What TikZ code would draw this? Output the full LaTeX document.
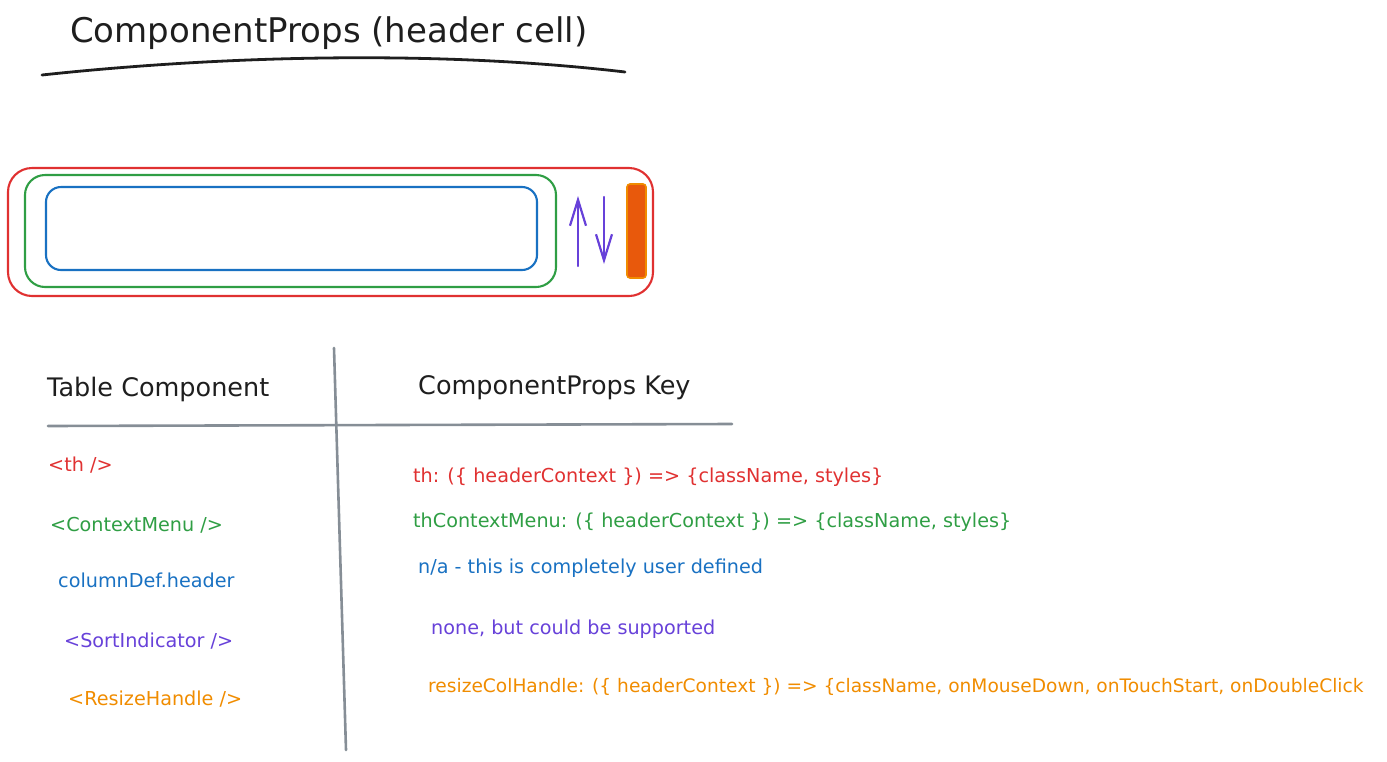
\documentclass[tikz,border=0pt]{standalone}
\usepackage{fontspec}
\setmainfont{DejaVu Sans}
\usetikzlibrary{arrows.meta}
\definecolor{exred}{HTML}{E03131}
\definecolor{exgreen}{HTML}{2F9E44}
\definecolor{exblue}{HTML}{1971C2}
\definecolor{exviolet}{HTML}{6741D9}
\definecolor{exorange}{HTML}{F08C00}
\definecolor{exorangefill}{HTML}{E8590C}
\definecolor{exgray}{HTML}{868E96}
\definecolor{exblack}{HTML}{1E1E1E}
\begin{document}
\begin{tikzpicture}[x=1pt,y=-1pt,
  lbl/.style={anchor=west,inner sep=0pt,font=\fontsize{19.2}{22}\selectfont},
  hdr/.style={anchor=west,inner sep=0pt,font=\fontsize{25.5}{28}\selectfont,text=exblack},
  box/.style={line width=2.1pt},
  rule/.style={draw=exgray,line width=2.6pt,line cap=round},
  sortarrow/.style={draw=exviolet,line width=2.2pt,line cap=round,-{Straight Barb[length=26pt,width=16pt,line width=2.2pt]}}
]
\useasboundingbox (0,0) rectangle (1387,761);

% title
\node[anchor=west,inner sep=0pt,font=\fontsize{34}{38}\selectfont,text=exblack] (title) at (70,33) {ComponentProps (header cell)};
\coordinate (ulA) at (42,75);
\coordinate (ulB) at (625,72);
\draw[exblack,line width=2.8pt,line cap=round] (ulA) .. controls (200,58) and (420,48) .. (ulB);

% header cell sketch
\draw[box,draw=exred,rounded corners=24pt] (8,168) rectangle (653,296);
\draw[box,draw=exgreen,rounded corners=20pt] (25,175) rectangle (556,287);
\draw[box,draw=exblue,rounded corners=15pt] (46,187) rectangle (537,270);
\coordinate (upS) at (578,266);
\coordinate (upE) at (578,196);
\coordinate (dnS) at (604,197);
\coordinate (dnE) at (604,264);
\draw[sortarrow] (upS) -- (upE);
\draw[sortarrow] (dnS) -- (dnE);
\draw[draw=exorange,fill=exorangefill,line width=1.6pt,rounded corners=3pt] (627,184) rectangle (646,278);

% table rules
\coordinate (vA) at (334,348);
\coordinate (vB) at (346,750);
\coordinate (hA) at (48,426);
\coordinate (hB) at (732,424);
\draw[rule] (vA) -- (vB);
\draw[rule] (hA) -- (hB);

% headers
\node[hdr] (hleft) at (47,389) {Table Component};
\node[hdr] (hright) at (418,388) {ComponentProps Key};

% left column
\node[lbl,text=exred] (l1) at (48,465) {<th />};
\node[lbl,text=exgreen] (l2) at (50,525) {<ContextMenu />};
\node[lbl,text=exblue] (l3) at (58,580) {columnDef.header};
\node[lbl,text=exviolet] (l4) at (64,641) {<SortIndicator />};
\node[lbl,text=exorange] (l5) at (68,699) {<ResizeHandle />};

% right column
\node[lbl,text=exred] (r1) at (413,477) {th: (\{ headerContext \}) => \{className, styles\}};
\node[lbl,text=exgreen] (r2) at (413,522) {thContextMenu: (\{ headerContext \}) => \{className, styles\}};
\node[lbl,text=exblue] (r3) at (418,568) {n/a - this is completely user defined};
\node[lbl,text=exviolet] (r4) at (431,629) {none, but could be supported};
\node[lbl,text=exorange,font=\fontsize{18.6}{22}\selectfont] (r5) at (428,687) {resizeColHandle: (\{ headerContext \}) => \{className, onMouseDown, onTouchStart, onDoubleClick};
\end{tikzpicture}
\end{document}
